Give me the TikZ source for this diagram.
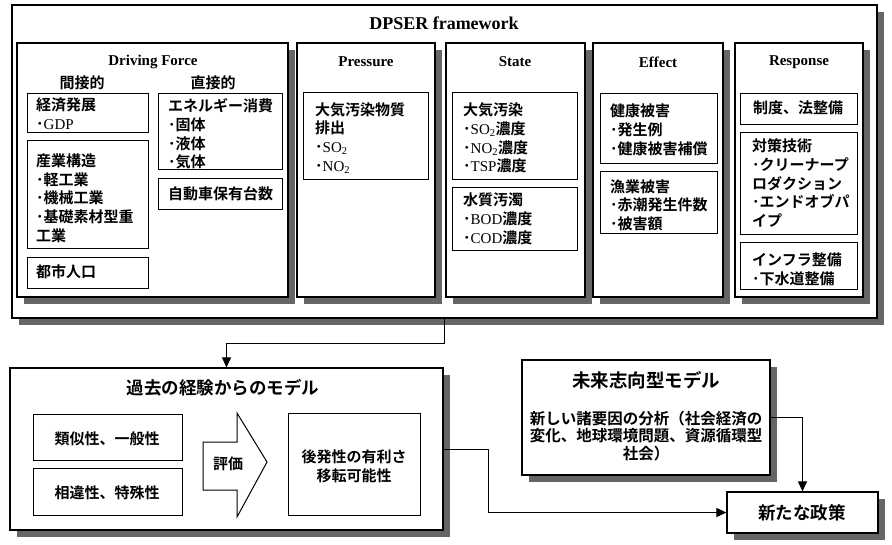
\documentclass[tikz,border=0pt]{standalone}
\usepackage{fontspec}
\setmainfont{Liberation Serif}
\newfontfamily\jp{Noto Sans CJK JP}[UprightFont=* Bold]
\usetikzlibrary{shadows,fit,arrows.meta}
\newcommand{\lat}[1]{{\rmfamily #1}}
\newcommand{\jsz}{\fontsize{15}{18.7}\selectfont}
\tikzset{
  frame/.style={draw, line width=1.2pt, fill=white, inner sep=0pt,
    drop shadow={shadow xshift=7pt, shadow yshift=-7pt, fill=black!60, opacity=1}},
  ibox/.style={draw, line width=1pt, fill=white, inner sep=0pt},
  jt/.style={font=\jp\jsz, align=left, inner sep=0pt, anchor=west},
  jc/.style={font=\jp\jsz, align=center, inner sep=0pt},
  head/.style={font=\bfseries\fontsize{15}{17}\selectfont, inner sep=0pt},
  conn/.style={line width=1pt, -{Triangle[length=10pt,width=9pt]}}
}
\begin{document}
\begin{tikzpicture}[x=1pt,y=-1pt]
\useasboundingbox (0,0) rectangle (892,544);
\fill[white] (0,0) rectangle (892,544);

% outer frame
\node[frame, fit={(12,5) (877,318)}] (dpser) {};
\node[font=\bfseries\fontsize{18}{20}\selectfont, inner sep=0pt] (tdpser) at (444,23) {DPSER framework};

% panels
\node[frame, fit={(17,43) (288,297)}] (pD) {};
\node[frame, fit={(297,43) (435,297)}] (pP) {};
\node[frame, fit={(446,43) (585,297)}] (pS) {};
\node[frame, fit={(593,43) (723,297)}] (pE) {};
\node[frame, fit={(735,43) (863,297)}] (pR) {};

\node[head] (hD) at (153,62) {Driving Force};
\node[head] (hP) at (366,62) {Pressure};
\node[head] (hS) at (515,62) {State};
\node[head] (hE) at (658,62) {Effect};
\node[head] (hR) at (799,62) {Response};

\node[jc] (ind) at (82,83) {間接的};
\node[jc] (dir) at (213,83) {直接的};

% inner boxes
\node[ibox, fit={(27,93) (148,132)}] (bD1) {};
\node[ibox, fit={(27,140) (148,248)}] (bD2) {};
\node[ibox, fit={(27,257) (148,288)}] (bD3) {};
\node[ibox, fit={(158,93) (282,169)}] (bD4) {};
\node[ibox, fit={(158,178) (282,209)}] (bD5) {};
\node[ibox, fit={(303,92) (428,179)}] (bP1) {};
\node[ibox, fit={(452,92) (577,179)}] (bS1) {};
\node[ibox, fit={(452,187) (577,250)}] (bS2) {};
\node[ibox, fit={(600,93) (717,163)}] (bE1) {};
\node[ibox, fit={(600,171) (717,233)}] (bE2) {};
\node[ibox, fit={(740,93) (857,124)}] (bR1) {};
\node[ibox, fit={(740,132) (857,234)}] (bR2) {};
\node[ibox, fit={(740,242) (857,289)}] (bR3) {};

% inner texts
\node[jt] (tD1) at (36,114) {経済発展\\･\lat{GDP}};
\node[jt] (tD2) at (36,198) {産業構造\\･軽工業\\･機械工業\\･基礎素材型重\\工業};
\node[jt] (tD3) at (36,272) {都市人口};
\node[jt] (tD4) at (168,134) {エネルギー消費\\･固体\\･液体\\･気体};
\node[jt] (tD5) at (168,194) {自動車保有台数};
\node[jt] (tP1) at (315,138) {大気汚染物質\\排出\\･\lat{SO\textsubscript{2}}\\･\lat{NO\textsubscript{2}}};
\node[jt] (tS1) at (463,138) {大気汚染\\･\lat{SO\textsubscript{2}}濃度\\･\lat{NO\textsubscript{2}}濃度\\･\lat{TSP}濃度};
\node[jt] (tS2) at (463,219) {水質汚濁\\･\lat{BOD}濃度\\･\lat{COD}濃度};
\node[jt] (tE1) at (610,130) {健康被害\\･発生例\\･健康被害補償};
\node[jt] (tE2) at (610,205) {漁業被害\\･赤潮発生件数\\･被害額};
\node[jc] (tR1) at (798,108) {制度、法整備};
\node[jt] (tR2) at (752,183) {対策技術\\･クリーナープ\\ロダクション\\･エンドオブパ\\イプ};
\node[jt] (tR3) at (752,269) {インフラ整備\\･下水道整備};

% bottom left
\node[frame, fit={(10,368) (443,530)}] (past) {};
\node[jc, font=\jp\fontsize{17.5}{20}\selectfont] (tpast) at (223,388) {過去の経験からのモデル};
\node[ibox, fit={(33,414) (182,460)}] (sim) {};
\node[jc] (tsim) at (107,439) {類似性、一般性};
\node[ibox, fit={(33,468) (182,515)}] (dif) {};
\node[jc] (tdif) at (107,493) {相違性、特殊性};
\draw[line width=1pt, fill=white] (203,442) -- (237,442) -- (237,413) -- (267,462)
  -- (237,517) -- (237,490) -- (203,490) -- cycle;
\node[jc] (teval) at (228,464) {評価};
\node[ibox, fit={(288,413) (420,515)}] (late) {};
\node[jc] (tlate) at (354,466) {後発性の有利さ\\移転可能性};

% bottom right
\node[frame, fit={(522,360) (770,475)}] (future) {};
\node[jc, font=\jp\fontsize{18.5}{21}\selectfont] (tfut) at (646,380) {未来志向型モデル};
\node[jc, font=\jp\fontsize{15.5}{17.5}\selectfont] (tfut2) at (646,436) {新しい諸要因の分析（社会経済の\\変化、地球環境問題、資源循環型\\社会）};
\node[frame, fit={(727,492) (878,533)}] (policy) {};
\node[jc, font=\jp\fontsize{17.5}{20}\selectfont] (tpol) at (802,513) {新たな政策};

% connectors
\draw[conn] (dpser.south) -- ++(0,25) -| (past.north);
\draw[conn] (past.east) -- ++(45,0) |- (policy.west);
\draw[conn] (future.east) -| (policy.north);
\end{tikzpicture}
\end{document}
